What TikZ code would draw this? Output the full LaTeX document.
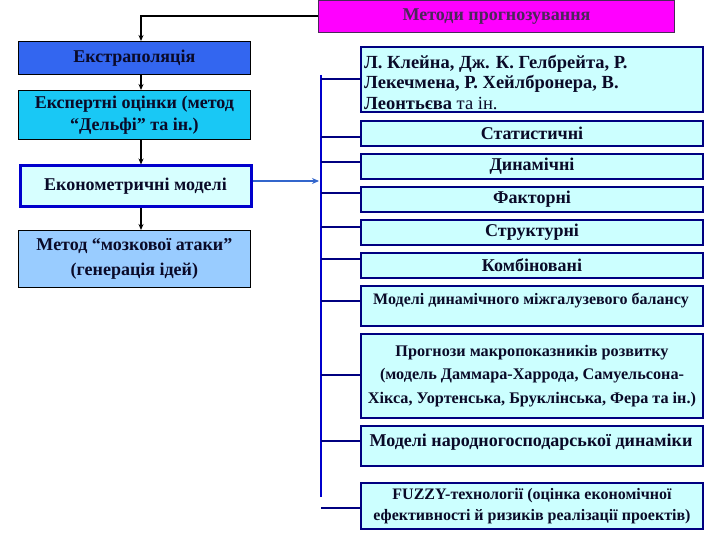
\documentclass[tikz,border=0pt]{standalone}
\usepackage{fontspec}
\setmainfont{Liberation Serif}
\usetikzlibrary{arrows.meta,calc}
\definecolor{titlefill}{RGB}{255,0,255}
\definecolor{titletext}{RGB}{75,40,90}
\definecolor{extfill}{RGB}{51,102,240}
\definecolor{expfill}{RGB}{25,200,245}
\definecolor{ecofill}{RGB}{215,255,255}
\definecolor{brainfill}{RGB}{153,204,255}
\definecolor{rfill}{RGB}{204,255,255}
\definecolor{navy}{RGB}{0,0,128}
\definecolor{barblue}{RGB}{0,0,204}
\definecolor{arrblue}{RGB}{51,102,204}
\definecolor{txt}{RGB}{10,10,40}
\tikzset{
  lbox/.style={draw=black, line width=0.8pt, anchor=north west, inner sep=0pt,
    minimum width=232pt, align=center, text=txt,
    font=\fontsize{18}{23}\selectfont\bfseries},
  rbox/.style={draw=navy, line width=2pt, fill=rfill, anchor=north west, inner sep=0pt,
    minimum width=342pt, align=center, text=txt,
    font=\fontsize{18}{22}\selectfont\bfseries},
  btxt/.style={inner sep=0pt, text=txt},
  darr/.style={draw=black, line width=1.1pt, -{Stealth[length=6pt,width=5pt]}},
  tickln/.style={draw=navy, line width=2pt},
}
\begin{document}
\begin{tikzpicture}[x=1pt,y=-1pt]
\useasboundingbox[fill=white] (0,0) rectangle (720,540);

% title
\node[draw=titletext, line width=1pt, fill=titlefill, anchor=north west, inner sep=0pt,
  minimum width=356pt, minimum height=32pt, text=titletext,
  font=\fontsize{18}{20}\selectfont\bfseries] (title) at (318,0) {Методи прогнозування};

% left column
\node[lbox, fill=extfill, minimum height=33pt] (ext) at (18,41) {Екстраполяція};
\node[lbox, fill=expfill, minimum height=49pt, font=\fontsize{18}{22}\selectfont\bfseries] (exp) at (18,90) {Експертні оцінки (метод\\“Дельфі” та ін.)};
\node[lbox, draw=barblue, line width=3pt, fill=ecofill, minimum width=231pt, minimum height=41pt] (eco) at (18.5,164.5) {Економетричні моделі};
\node[lbox, fill=brainfill, minimum height=57pt, font=\fontsize{18}{25}\selectfont\bfseries] (brain) at (18,230) {Метод “мозкової атаки”\\(генерація ідей)};

\coordinate (corner) at (141,16);
\draw[darr] (title.west |- corner) -- (corner) -- (corner |- ext.north);
\draw[darr] (corner |- ext.south) -- (corner |- exp.north);
\draw[darr] (corner |- exp.south) -- (corner |- eco.north);
\draw[darr] (corner |- eco.south) -- (corner |- brain.north);

% right column
\node[rbox, minimum height=65pt] (r1) at (360,46) {};
\node[btxt, anchor=north west, align=left, font=\fontsize{18.5}{20.5}\selectfont] (r1t) at (364,55)
  {\bfseries Л. Клейна, Дж. К. Гелбрейта, Р.\\ \bfseries Лекечмена, Р. Хейлбронера, В.\\ \bfseries Леонтьєва \mdseries та ін.};
\node[rbox, minimum height=25pt] (r2) at (360,120) {Статистичні};
\node[rbox, minimum height=25pt] (r3) at (360,153) {Динамічні};
\node[rbox, minimum height=25pt] (r4) at (360,186) {Факторні};
\node[rbox, minimum height=25pt] (r5) at (360,219) {Структурні};
\node[rbox, minimum height=25pt] (r6) at (360,252) {Комбіновані};
\node[rbox, minimum height=40pt] (r7) at (360,285) {};
\node[btxt, font=\fontsize{16}{19}\selectfont\bfseries] (r7t) at (531,300) {Моделі динамічного міжгалузевого балансу};
\node[rbox, minimum height=84pt, font=\fontsize{16.2}{23.5}\selectfont\bfseries] (r8) at (360,333)
  {Прогнози макропоказників розвитку\\(модель Даммара-Харрода, Самуельсона-\\Хікса, Уортенська, Бруклінська, Фера та ін.)};
\node[rbox, minimum height=40pt] (r9) at (360,425) {};
\node[btxt, font=\fontsize{18}{21}\selectfont\bfseries] (r9t) at (531,442) {Моделі народногосподарської динаміки};
\node[rbox, minimum height=46pt, font=\fontsize{16}{20.5}\selectfont\bfseries] (r10) at (360,482)
  {FUZZY-технології (оцінка економічної\\ефективності й ризиків реалізації проектів)};

% bar
\coordinate (bartop) at (321,75);
\coordinate (barbot) at (321,497);
\draw[draw=barblue, line width=2pt] (bartop) -- (barbot);
\foreach \n/\yy in {r1/79, r2/137, r3/162, r4/193, r5/227, r6/259, r7/301, r8/375, r9/441, r10/508}{
  \coordinate (t\n) at (321,\yy);
  \draw[tickln] (t\n) -- (t\n -| \n.west);
}

% blue arrow
\coordinate (barin) at (319,181);
\draw[draw=arrblue, line width=1.1pt, -{Stealth[length=7pt,width=6pt]}] (eco.east |- barin) -- (barin);
\end{tikzpicture}
\end{document}
